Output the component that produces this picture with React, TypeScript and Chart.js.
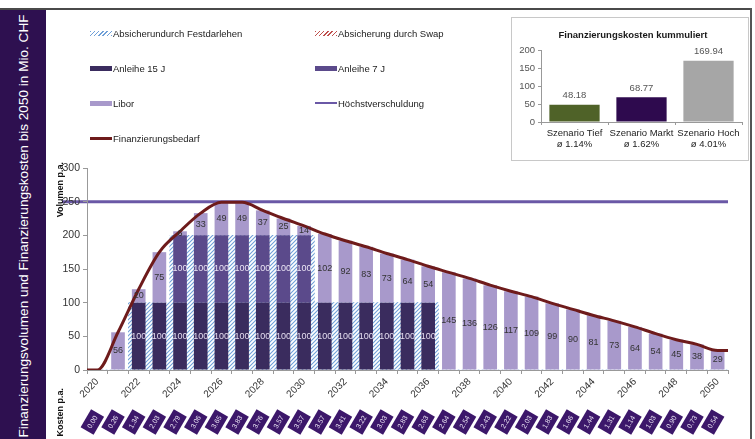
import React, { useEffect, useRef } from "react";
import { Chart, registerables } from "chart.js";
Chart.register(...registerables);

const FONT = "Arial, 'Liberation Sans', sans-serif";

// ---------- DATA ----------
const years = ["2020","2021","2022","2023","2024","2025","2026","2027","2028","2029","2030","2031","2032","2033","2034","2035","2036","2037","2038","2039","2040","2041","2042","2043","2044","2045","2046","2047","2048","2049","2050"];
const anleihe15 = [0,0,100,100,100,100,100,100,100,100,100,100,100,100,100,100,100,0,0,0,0,0,0,0,0,0,0,0,0,0,0];
const anleihe7 = [0,0,0,0,100,100,100,100,100,100,100,0,0,0,0,0,0,0,0,0,0,0,0,0,0,0,0,0,0,0,0];
const libor = [0,56,20,75,6,33,49,49,37,25,14,102,92,83,73,64,54,145,136,126,117,109,99,90,81,73,64,54,45,38,29];
const festdarlehen = [0,0,100,100,200,200,200,200,200,200,200,100,100,100,100,100,100,0,0,0,0,0,0,0,0,0,0,0,0,0,0];
const finanzierungsbedarf = [0,56,120,175,206,233,249,249,237,225,214,202,192,183,173,164,154,145,136,126,117,109,99,90,81,73,64,54,45,38,29];
const kostenPa = [0.00,0.26,1.34,2.03,2.79,3.06,3.65,3.83,3.76,3.57,3.57,3.57,3.41,3.22,3.03,2.83,2.63,2.64,2.54,2.43,2.22,2.03,1.83,1.66,1.44,1.31,1.14,1.03,0.90,0.73,0.54];
const hoechstverschuldung = 250;
const yMax = 300;
const yStep = 50;

const szenarien = [["Szenario Tief", "ø 1.14%"], ["Szenario Markt", "ø 1.62%"], ["Szenario Hoch", "ø 4.01%"]];
const kostenKummuliert = [48.18, 68.77, 169.94];
const insetMax = 200;
const insetStep = 50;

// ---------- STYLE ----------
const C_15 = "#3a2c5e";
const C_7 = "#5b4a8b";
const C_LIBOR = "#a899cb";
const C_BEDARF = "#6e1b1b";
const C_HOECHST = "#6a58a6";
const C_HATCH_BLUE = "#6fa0d8";
const C_HATCH_RED = "#c0504d";
const C_BAND = "#2e1050";
const C_BOX = "#3c176a";
const C_INSET = ["#4f6228", "#2e0a4e", "#a6a6a6"];

function makeHatch(color: string) {
  const c = document.createElement("canvas");
  c.width = 4;
  c.height = 4;
  const g = c.getContext("2d")!;
  g.fillStyle = "#fff";
  g.fillRect(0, 0, 4, 4);
  g.strokeStyle = color;
  g.lineWidth = 1.1;
  g.beginPath();
  g.moveTo(0, 4); g.lineTo(4, 0);
  g.moveTo(-1, 1); g.lineTo(1, -1);
  g.moveTo(3, 5); g.lineTo(5, 3);
  g.stroke();
  return g.createPattern(c, "repeat")!;
}

const overlayPlugin = {
  id: "overlay",
  beforeDraw(chart: any) {
    const { ctx, chartArea, scales } = chart;
    const y = scales.y.getPixelForValue(hoechstverschuldung);
    ctx.save();
    ctx.strokeStyle = C_HOECHST;
    ctx.lineWidth = 3;
    ctx.beginPath();
    ctx.moveTo(62, y);
    ctx.lineTo(chartArea.right, y);
    ctx.stroke();
    ctx.restore();
  },
  afterDatasetsDraw(chart: any) {
    const { ctx } = chart;
    const specs = [
      { idx: 1, data: anleihe15, color: "#e4ddf0" },
      { idx: 2, data: anleihe7, color: "#ece6f6" },
      { idx: 3, data: libor, color: "#333" },
    ];
    ctx.save();
    ctx.font = `9px ${FONT}`;
    ctx.textAlign = "center";
    ctx.textBaseline = "middle";
    specs.forEach((s) => {
      const meta = chart.getDatasetMeta(s.idx);
      meta.data.forEach((el: any, j: number) => {
        const v = s.data[j];
        if (!v) return;
        const p = el.getProps(["x", "y", "base"], true);
        ctx.fillStyle = s.color;
        ctx.fillText(String(v), p.x, (p.y + p.base) / 2);
      });
    });
    ctx.restore();
  },
  afterDraw(chart: any) {
    const { ctx, scales } = chart;
    const xs = scales.x;
    ctx.save();
    kostenPa.forEach((v, i) => {
      const cx = xs.getPixelForValue(i) - 5;
      const cy = 422;
      ctx.save();
      ctx.translate(cx, cy);
      ctx.rotate(-Math.PI / 3);
      ctx.fillStyle = C_BOX;
      ctx.fillRect(-10.5, -7.5, 21, 15);
      ctx.fillStyle = "#e8e2f2";
      ctx.font = `7px ${FONT}`;
      ctx.textAlign = "center";
      ctx.textBaseline = "middle";
      ctx.fillText(v.toFixed(2), 0, 0.5);
      ctx.restore();
    });
    // axis titles
    ctx.fillStyle = "#111";
    ctx.font = `bold 9px ${FONT}`;
    ctx.textBaseline = "middle";
    ctx.textAlign = "right";
    ctx.save();
    ctx.translate(61, 162);
    ctx.rotate(-Math.PI / 2);
    ctx.fillText("Volumen p.a.", 0, 0);
    ctx.restore();
    ctx.save();
    ctx.translate(61, 388);
    ctx.rotate(-Math.PI / 2);
    ctx.fillText("Kosten p.a.", 0, 0);
    ctx.restore();
    ctx.restore();
  },
};

const insetPlugin = {
  id: "insetOverlay",
  afterDatasetsDraw(chart: any) {
    const { ctx } = chart;
    ctx.save();
    ctx.font = `bold 9.5px ${FONT}`;
    ctx.fillStyle = "#1a1a1a";
    ctx.textAlign = "center";
    ctx.textBaseline = "middle";
    ctx.fillText("Finanzierungskosten kummuliert", 121, 17);
    const meta = chart.getDatasetMeta(0);
    ctx.font = `9.5px ${FONT}`;
    ctx.fillStyle = "#555";
    meta.data.forEach((el: any, j: number) => {
      const p = el.getProps(["x", "y"], true);
      ctx.fillText(kostenKummuliert[j].toFixed(2), p.x, p.y - 9);
    });
    ctx.restore();
  },
};

export default function App() {
  const mainRef = useRef<HTMLCanvasElement>(null);
  const insetRef = useRef<HTMLCanvasElement>(null);

  useEffect(() => {
    document.body.style.margin = "0";
    const hatchBlue = makeHatch(C_HATCH_BLUE);
    const lineData = [
      { x: -0.5, y: finanzierungsbedarf[0] },
      ...finanzierungsbedarf.map((v, i) => ({ x: i, y: v })),
      { x: years.length - 0.5, y: finanzierungsbedarf[finanzierungsbedarf.length - 1] },
    ];
    const barCommon = { grouped: false, barPercentage: 0.66, categoryPercentage: 1, stack: "s", order: 1 };
    const main = new Chart(mainRef.current!, {
      type: "bar",
      data: {
        labels: years,
        datasets: [
          {
            type: "line",
            label: "Finanzierungsbedarf",
            data: lineData as any,
            xAxisID: "xl",
            yAxisID: "y",
            borderColor: C_BEDARF,
            borderWidth: 3,
            pointRadius: 0,
            cubicInterpolationMode: "monotone",
            fill: false,
            order: 0,
          } as any,
          { label: "Anleihe 15 J", data: anleihe15, backgroundColor: C_15, ...barCommon },
          { label: "Anleihe 7 J", data: anleihe7, backgroundColor: C_7, ...barCommon },
          { label: "Libor", data: libor, backgroundColor: C_LIBOR, ...barCommon },
          { label: "Absicherung durch Festdarlehen", data: festdarlehen, xAxisID: "x2", backgroundColor: hatchBlue as any, order: 5, grouped: false, barPercentage: 1, categoryPercentage: 1 },
        ] as any,
      },
      options: {
        responsive: false,
        animation: false,
        layout: { padding: { left: 46, right: 27, top: 168, bottom: 0 } },
        plugins: { legend: { display: false }, tooltip: { enabled: false } },
        scales: {
          x: {
            type: "category",
            stacked: true,
            offset: true,
            grid: { drawOnChartArea: false, tickLength: 4, color: "#999", offset: true },
            border: { color: "#999" },
            ticks: {
              autoSkip: false,
              minRotation: 45,
              maxRotation: 45,
              padding: 2,
              color: "#333",
              font: { family: FONT, size: 10 },
              callback: (_v: any, i: number) => (i % 2 === 0 ? years[i] : ""),
            },
            afterFit: (s: any) => { s.height = 69; },
          },
          x2: { type: "category", display: false, offset: true, stacked: true },
          xl: { type: "linear", display: false, offset: false, grid: { offset: false }, min: -0.5, max: years.length - 0.5 },
          y: {
            stacked: true,
            min: 0,
            max: yMax,
            ticks: { stepSize: yStep, color: "#333", font: { family: FONT, size: 10.5 }, padding: 3 },
            grid: { drawOnChartArea: false, tickLength: 4, color: "#999" },
            border: { color: "#999" },
            afterFit: (s: any) => { s.width = 41; },
          },
        },
      } as any,
      plugins: [overlayPlugin],
    });

    const inset = new Chart(insetRef.current!, {
      type: "bar",
      data: {
        labels: szenarien,
        datasets: [{ data: kostenKummuliert, backgroundColor: C_INSET, barPercentage: 0.75, categoryPercentage: 1 }],
      },
      options: {
        responsive: false,
        animation: false,
        layout: { padding: { left: 0, right: 6, top: 32, bottom: 0 } },
        plugins: { legend: { display: false }, tooltip: { enabled: false } },
        scales: {
          x: {
            grid: { drawOnChartArea: false, tickLength: 3, color: "#999" },
            border: { color: "#999" },
            ticks: { maxRotation: 0, minRotation: 0, autoSkip: false, color: "#222", font: { family: FONT, size: 9.5, lineHeight: 1.15 }, padding: 3 },
            afterFit: (s: any) => { s.height = 38; },
          },
          y: {
            min: 0,
            max: insetMax,
            ticks: { stepSize: insetStep, color: "#555", font: { family: FONT, size: 9.5 }, padding: 3 },
            grid: { drawOnChartArea: false, tickLength: 3, color: "#999" },
            border: { color: "#999" },
            afterFit: (s: any) => { s.width = 29; },
          },
        },
      } as any,
      plugins: [insetPlugin],
    });

    return () => {
      main.destroy();
      inset.destroy();
    };
  }, []);

  const hatchCss = (c: string) => `repeating-linear-gradient(135deg, ${c} 0px, ${c} 1px, #fff 1px, #fff 3px)`;
  const legend = [
    { label: "Absicherundurch Festdarlehen", bg: hatchCss(C_HATCH_BLUE), h: 5, col: 0, row: 0 },
    { label: "Absicherung durch Swap", bg: hatchCss(C_HATCH_RED), h: 5, col: 1, row: 0 },
    { label: "Anleihe 15 J", bg: C_15, h: 5, col: 0, row: 1 },
    { label: "Anleihe 7 J", bg: C_7, h: 5, col: 1, row: 1 },
    { label: "Libor", bg: C_LIBOR, h: 5, col: 0, row: 2 },
    { label: "Höchstverschuldung", bg: C_HOECHST, h: 2, col: 1, row: 2 },
    { label: "Finanzierungsbedarf", bg: C_BEDARF, h: 3, col: 0, row: 3 },
  ];
  const rowY = [33, 68, 103, 138];
  const colX = [90, 315];

  return (
    <div style={{ position: "fixed", left: 0, top: 0, width: 755, height: 439, background: "#fff", overflow: "hidden", fontFamily: FONT }}>
      <canvas ref={mainRef} width={755} height={439} style={{ position: "absolute", left: 0, top: 0 }} />
      <div style={{ position: "absolute", left: 0, top: 8, width: 752, height: 2, background: "#4a4a4a" }} />
      <div style={{ position: "absolute", left: 750, top: 8, width: 2, height: 431, background: "#555" }} />
      <div style={{ position: "absolute", left: 0, top: 10, width: 46, height: 429, background: C_BAND }} />
      <div
        style={{
          position: "absolute",
          left: 23 - 215,
          top: 226 - 23,
          width: 430,
          height: 46,
          transform: "rotate(-90deg)",
          display: "flex",
          alignItems: "center",
          justifyContent: "center",
          color: "#fff",
          fontSize: 13.6,
          whiteSpace: "nowrap",
        }}
      >
        Finanzierungsvolumen und Finanzierungskosten bis 2050 in Mio. CHF
      </div>
      {legend.map((l) => (
        <div key={l.label} style={{ position: "absolute", left: colX[l.col], top: rowY[l.row] - 8, height: 16, display: "flex", alignItems: "center", whiteSpace: "nowrap" }}>
          <div style={{ width: 22, height: l.h, background: l.bg, marginRight: 1 }} />
          <span style={{ fontSize: 9.5, color: "#222" }}>{l.label}</span>
        </div>
      ))}
      <div style={{ position: "absolute", left: 511, top: 17, width: 236, height: 142, border: "1px solid #c8c8c8", background: "#fff" }}>
        <canvas ref={insetRef} width={236} height={142} style={{ display: "block" }} />
      </div>
    </div>
  );
}
